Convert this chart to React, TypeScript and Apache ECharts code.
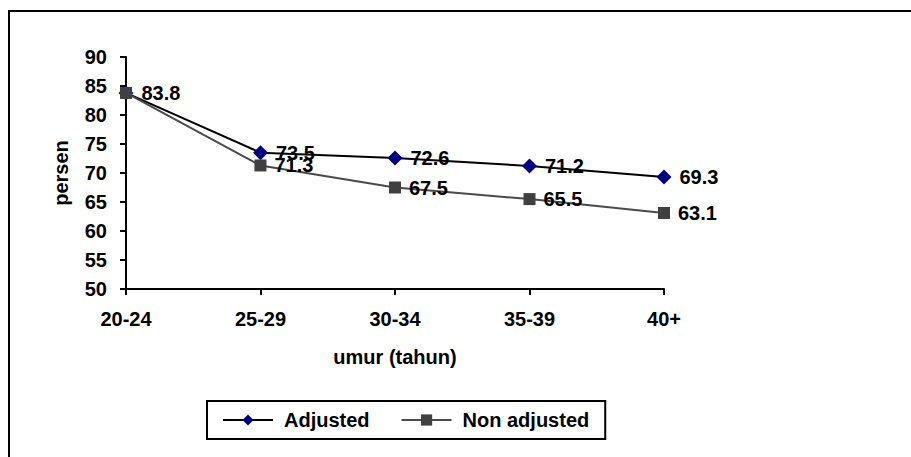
import React, { useEffect, useRef } from "react";
import * as echarts from "echarts";

const categories = ["20-24", "25-29", "30-34", "35-39", "40+"];
const adjusted = [83.8, 73.5, 72.6, 71.2, 69.3];
const nonAdjusted = [83.8, 71.3, 67.5, 65.5, 63.1];
const seriesNames = ["Adjusted", "Non adjusted"];

const FONT = "Arial, 'Liberation Sans', sans-serif";

export default function App() {
  const ref = useRef<HTMLDivElement>(null);
  useEffect(() => {
    if (!ref.current) return;
    const chart = echarts.init(ref.current, undefined, { renderer: "svg" });
    const labelStyle = {
      show: true,
      position: "right" as const,
      distance: 8,
      fontFamily: FONT,
      fontWeight: "bold" as const,
      fontSize: 20,
      color: "#000",
    };
    // the first Non adjusted label coincides with the Adjusted one, so only one is shown
    const nonAdjustedData = nonAdjusted.map((v, i) =>
      i === 0 ? { value: v, label: { show: false } } : v
    );
    chart.setOption({
      animation: false,
      backgroundColor: "#fff",
      textStyle: { fontFamily: FONT },
      graphic: [
        {
          type: "rect",
          shape: { x: 9, y: 11, width: 2000, height: 2000 },
          style: { fill: "none", stroke: "#000", lineWidth: 2 },
          silent: true,
        },
      ],
      grid: { left: 126, right: 247, top: 57, bottom: 168, containLabel: false },
      legend: {
        left: 207,
        top: 401,
        orient: "horizontal",
        borderColor: "#000",
        borderWidth: 2,
        padding: [9, 16, 9, 15],
        itemGap: 31,
        itemWidth: 50,
        itemHeight: 14,
        textStyle: {
          fontFamily: FONT,
          fontWeight: "bold",
          fontSize: 20,
          color: "#000",
          padding: [0, 0, 0, 6],
        },
        data: seriesNames,
      },
      xAxis: {
        type: "category",
        data: categories,
        boundaryGap: false,
        name: "umur (tahun)",
        nameLocation: "middle",
        nameGap: 58,
        nameTextStyle: { fontFamily: FONT, fontWeight: "bold", fontSize: 20, color: "#000" },
        axisLine: { lineStyle: { color: "#000", width: 2 } },
        axisTick: { show: true, length: 6, lineStyle: { color: "#000", width: 2 } },
        axisLabel: { fontFamily: FONT, fontWeight: "bold", fontSize: 20, color: "#000", margin: 20 },
        splitLine: { show: false },
      },
      yAxis: {
        type: "value",
        min: 50,
        max: 90,
        interval: 5,
        name: "persen",
        nameLocation: "middle",
        nameGap: 55,
        nameTextStyle: { fontFamily: FONT, fontWeight: "bold", fontSize: 20, color: "#000" },
        axisLine: { show: true, lineStyle: { color: "#000", width: 2 } },
        axisTick: { show: true, length: 6, lineStyle: { color: "#000", width: 2 } },
        axisLabel: { fontFamily: FONT, fontWeight: "bold", fontSize: 20, color: "#000", margin: 19 },
        splitLine: { show: false },
      },
      series: [
        {
          name: seriesNames[0],
          type: "line",
          data: adjusted,
          symbol: "diamond",
          symbolSize: 15,
          lineStyle: { color: "#000", width: 2 },
          itemStyle: { color: "#000080" },
          label: labelStyle,
        },
        {
          name: seriesNames[1],
          type: "line",
          data: nonAdjustedData,
          symbol: "rect",
          symbolSize: 12,
          lineStyle: { color: "#4a4a4a", width: 2 },
          itemStyle: { color: "#404040" },
          label: labelStyle,
        },
      ],
    });
    return () => chart.dispose();
  }, []);
  return (
    <div
      ref={ref}
      style={{ position: "fixed", left: 0, top: 0, width: 911, height: 457, background: "#fff" }}
    />
  );
}
